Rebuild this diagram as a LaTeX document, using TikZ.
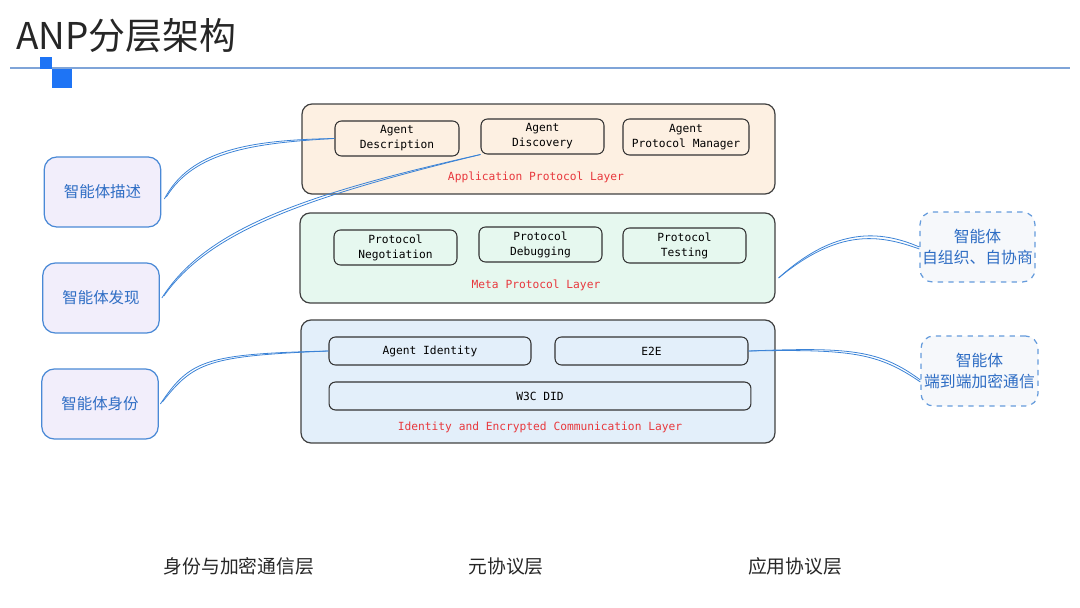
\documentclass[tikz,border=0pt]{standalone}
\usepackage{fontspec}
\usepackage{tikz}
\usetikzlibrary{arrows}
\setmonofont{DejaVu Sans Mono}
\newfontfamily\cjk{Noto Sans CJK SC}

\definecolor{apfill}{HTML}{FDF0E2}
\definecolor{metafill}{HTML}{E6F8EF}
\definecolor{idfill}{HTML}{E3EFFA}
\definecolor{agentfill}{HTML}{F2EEFB}
\definecolor{agentline}{HTML}{4A89D6}
\definecolor{agenttext}{HTML}{2E6DC4}
\definecolor{dashfill}{HTML}{F6F8FB}
\definecolor{wireblue}{HTML}{3A82D6}
\definecolor{layerred}{HTML}{E8383D}
\definecolor{headblue}{HTML}{1E74F5}
\definecolor{ruleblue}{HTML}{7FA4D8}

\begin{document}
\begin{tikzpicture}[x=0.02cm,y=-0.02cm,semithick]
\tikzstyle{layer}=[draw=black!75,line width=0.7pt,rounded corners=0.2cm,inner sep=0pt]
\tikzstyle{module}=[draw=black!80,line width=0.6pt,rounded corners=0.13cm,inner sep=0pt,align=center,
                    font=\ttfamily\fontsize{6.4pt}{8.5pt}\selectfont]
\tikzstyle{layername}=[text=layerred,font=\ttfamily\fontsize{6.4pt}{8pt}\selectfont]
\tikzstyle{agent}=[draw=agentline,fill=agentfill,line width=0.7pt,rounded corners=0.25cm,inner sep=0pt,
                   text=agenttext,minimum width=2.33cm,minimum height=1.4cm,font=\cjk\fontsize{8.8pt}{11pt}\selectfont]
\tikzstyle{goal}=[draw=agentline!85,fill=dashfill,dashed,line width=0.7pt,rounded corners=0.25cm,inner sep=0pt,
                  text=agenttext,align=center,minimum height=1.4cm,font=\cjk\fontsize{9pt}{12pt}\selectfont]
\tikzstyle{wire}=[wireblue,line width=0.45pt]
\tikzstyle{caption}=[font=\cjk\fontsize{10.7pt}{13pt}\selectfont,text=black!85]

\useasboundingbox (0,0) rectangle (1080,608);

        % title bar
        \node[anchor=west,inner sep=0pt,text=black!85,font=\cjk\fontsize{21pt}{24pt}\selectfont] (title) at (16,36) {ANP分层架构};
        \draw[ruleblue,line width=0.6pt] (10,68) -- (1070,68);
        \fill[headblue] (40,57) rectangle (52,69);
        \fill[headblue] (52,69) rectangle (72,88);

        % application protocol layer
        \node[layer,fill=apfill,minimum width=9.46cm,minimum height=1.8cm]   (app)   at (538.5,149) {};
        \node[module,minimum width=2.48cm,minimum height=0.7cm]              (adesc) at (397,138.5) {Agent\\Description};
        \node[module,minimum width=2.46cm,minimum height=0.7cm]              (adisc) at (542.5,136.5) {Agent\\Discovery};
        \node[module,minimum width=2.52cm,minimum height=0.72cm]             (amgr)  at (686,137) {Agent\\Protocol Manager};
        \node[layername]                                                     (lapp)  at (536,177) {Application Protocol Layer};

        % meta protocol layer
        \node[layer,fill=metafill,minimum width=9.5cm,minimum height=1.8cm]  (meta)  at (537.5,258) {};
        \node[module,minimum width=2.46cm,minimum height=0.7cm]              (pneg)  at (395.5,247.5) {Protocol\\Negotiation};
        \node[module,minimum width=2.46cm,minimum height=0.7cm]              (pdbg)  at (540.5,244.5) {Protocol\\Debugging};
        \node[module,minimum width=2.46cm,minimum height=0.7cm]              (ptst)  at (684.5,245.5) {Protocol\\Testing};
        \node[layername]                                                     (lmeta) at (536,285) {Meta Protocol Layer};

        % identity and encrypted communication layer
        \node[layer,fill=idfill,minimum width=9.48cm,minimum height=2.46cm]  (ident) at (538,381.5) {};
        \node[module,minimum width=4.04cm,minimum height=0.56cm]             (aid)   at (430,351) {Agent Identity};
        \node[module,minimum width=3.86cm,minimum height=0.56cm]             (ee)    at (651.5,351) {E2E};
        \node[module,minimum width=8.44cm,minimum height=0.56cm]             (did)   at (540,396) {W3C DID};
        \node[layername]                                                     (lid)   at (540,427) {Identity and Encrypted Communication Layer};

        % agents on the left
        \node[agent] (gdesc) at (102.5,192) {智能体描述};
        \node[agent] (gdisc) at (101,298)   {智能体发现};
        \node[agent] (gid)   at (100,404)   {智能体身份};

        % goals on the right
        \node[goal,minimum width=2.3cm]  (gself) at (977.5,247) {智能体\\自组织、自协商};
        \node[goal,minimum width=2.34cm] (gee)   at (979.5,371) {智能体\\端到端加密通信};

        % bottom captions
        \node[caption] (cid)   at (239,566) {身份与加密通信层};
        \node[caption] (cmeta) at (506,566) {元协议层};
        \node[caption] (capp)  at (795,566) {应用协议层};

        % wires
        \draw[wire] ([xshift=0.06cm,yshift=-0.14cm]gdesc.east) .. controls (190,150) and (250,140) .. (adesc.west);
        \draw[wire] ([xshift=0.1cm,yshift=-0.1cm]gdesc.east) .. controls (194,152) and (252,143) .. (adesc.west);
        \draw[wire] ([xshift=0.04cm]gdisc.east) .. controls (205,230) and (300,195) .. (adisc.south west);
        \draw[wire] ([xshift=0.08cm,yshift=0.04cm]gdisc.east) .. controls (209,232) and (302,198) .. (adisc.south west);
        \draw[wire] ([xshift=0.03cm]gid.east) .. controls (190,360) and (205,354) .. (aid.west);
        \draw[wire] ([xshift=0.07cm,yshift=0.04cm]gid.east) .. controls (194,362) and (208,356) .. (aid.west);
        \draw[wire] ([xshift=0.06cm,yshift=-0.4cm]meta.east) .. controls (835,227) and (880,230) .. (gself.west);
        \draw[wire] ([xshift=0.06cm,yshift=-0.4cm]meta.east) .. controls (838,229) and (878,234) .. ([yshift=-0.04cm]gself.west);
        \draw[wire] (ee.east) .. controls (850,347) and (880,350) .. ([yshift=-0.18cm]gee.west);
        \draw[wire] (ee.east) .. controls (852,349) and (878,353) .. ([yshift=-0.22cm]gee.west);

\end{tikzpicture}
\end{document}
